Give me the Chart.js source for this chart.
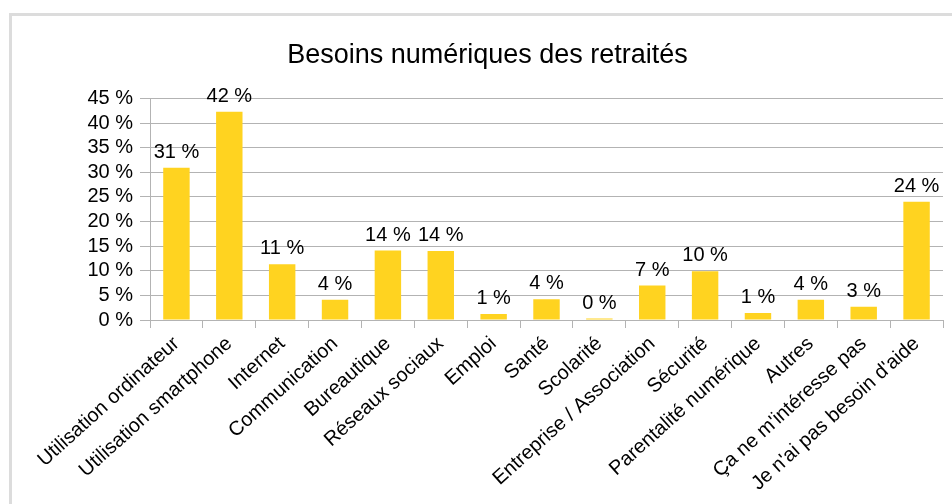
<!DOCTYPE html>
<html>
<head>
<meta charset="utf-8">
<script src="https://cdn.jsdelivr.net/npm/chart.js@4.4.1/dist/chart.umd.min.js"></script>
<style>
  html, body { margin: 0; padding: 0; background: #ffffff; overflow: hidden; }
  #frame { position: absolute; left: 9px; top: 13px; width: 1000px; height: 600px;
           border: 3px solid #dcdcdc; box-sizing: border-box; }
  #c { position: absolute; left: 0; top: 0; }
</style>
</head>
<body>
<div id="frame"></div>
<canvas id="c" width="952" height="504"></canvas>
<script>
const chartTitle = "Besoins numériques des retraités";
const categories = [
  "Utilisation ordinateur",
  "Utilisation smartphone",
  "Internet",
  "Communication",
  "Bureautique",
  "Réseaux sociaux",
  "Emploi",
  "Santé",
  "Scolarité",
  "Entreprise / Association",
  "Sécurité",
  "Parentalité numérique",
  "Autres",
  "Ça ne m'intéresse pas",
  "Je n'ai pas besoin d'aide"
];
const values = [30.9, 42.3, 11.3, 4.1, 14.1, 14.0, 1.2, 4.2, 0.3, 7.0, 9.9, 1.4, 4.1, 2.7, 24.0];
const valueTexts = ["31 %", "42 %", "11 %", "4 %", "14 %", "14 %", "1 %", "4 %", "0 %", "7 %", "10 %", "1 %", "4 %", "3 %", "24 %"];
const yTickValues = [0, 5, 10, 15, 20, 25, 30, 35, 40, 45];

const FONT = "'Liberation Sans', Arial, sans-serif";
const GRID = "#b3b3b3";

const valueLabelPlugin = {
  id: "valueLabels",
  afterDatasetsDraw(chart) {
    const ctx = chart.ctx;
    const meta = chart.getDatasetMeta(0);
    ctx.save();
    ctx.font = "20px " + FONT;
    ctx.fillStyle = "#000000";
    ctx.textAlign = "center";
    ctx.textBaseline = "alphabetic";
    meta.data.forEach((bar, i) => {
      ctx.fillText(valueTexts[i], bar.x, bar.y - 10);
    });
    ctx.restore();
  }
};

new Chart(document.getElementById("c"), {
  type: "bar",
  data: {
    labels: categories,
    datasets: [{
      data: values,
      backgroundColor: "#ffd320",
      borderWidth: 0,
      categoryPercentage: 1.0,
      barPercentage: 0.5
    }]
  },
  options: {
    responsive: false,
    animation: false,
    events: [],
    layout: { padding: { left: 32, right: 9, top: 0, bottom: 0 } },
    plugins: {
      legend: { display: false },
      tooltip: { enabled: false },
      title: {
        display: true,
        text: chartTitle,
        color: "#000000",
        font: { family: FONT, size: 27, weight: "normal" },
        padding: { top: 39, bottom: 27 }
      }
    },
    scales: {
      x: {
        offset: true,
        grid: {
          offset: true,
          drawOnChartArea: true,
          color: (ctx) => (ctx.index === categories.length ? GRID : "rgba(0,0,0,0)"),
          tickColor: GRID,
          tickLength: 8,
          lineWidth: 1
        },
        border: { display: true, color: GRID, width: 1 },
        ticks: {
          autoSkip: false,
          maxRotation: 42,
          minRotation: 42,
          padding: 4,
          color: "#000000",
          font: { family: FONT, size: 20 }
        },
        afterFit(scale) { scale.height = 184; }
      },
      y: {
        min: 0,
        max: 45,
        afterBuildTicks(scale) { scale.ticks = yTickValues.map(v => ({ value: v })); },
        grid: { color: GRID, tickColor: GRID, tickLength: 10, lineWidth: 1 },
        border: { display: true, color: GRID, width: 1 },
        ticks: {
          autoSkip: false,
          padding: 7,
          color: "#000000",
          font: { family: FONT, size: 20 },
          callback: (v) => v + " %"
        },
        afterFit(scale) { scale.width = 118; }
      }
    }
  },
  plugins: [valueLabelPlugin]
});
</script>
</body>
</html>
